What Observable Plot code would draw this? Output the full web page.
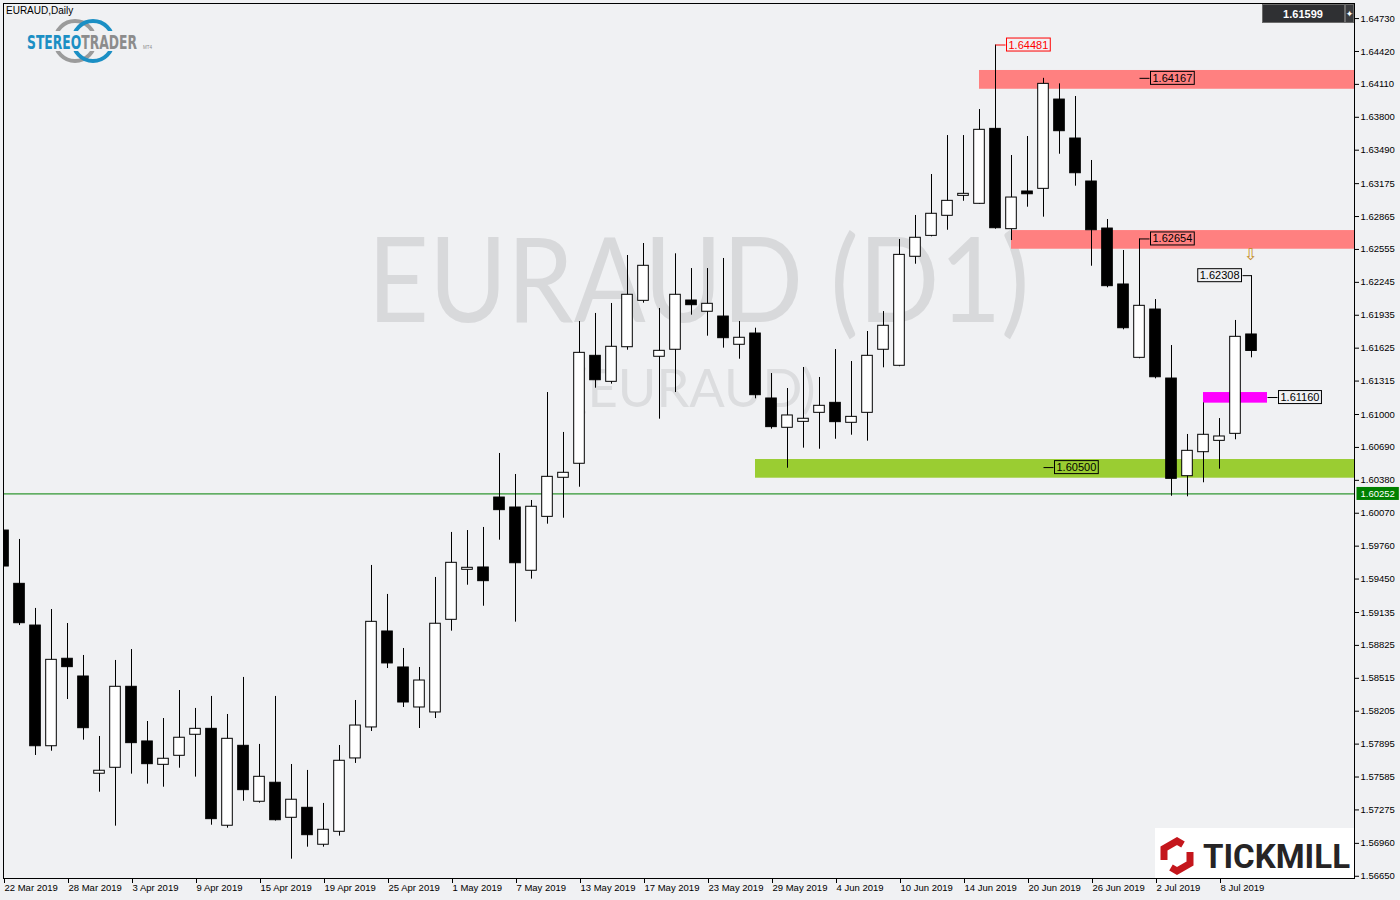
<!DOCTYPE html>
<html><head><meta charset="utf-8">
<script src="https://cdn.jsdelivr.net/npm/d3@7"></script>
<script src="https://cdn.jsdelivr.net/npm/@observablehq/plot@0.6"></script>
<style>
html,body{margin:0;padding:0;background:#f0f1f3;}
#wrap{position:relative;width:1400px;height:900px;overflow:hidden;background:#f0f1f3;}
#overlay{position:absolute;left:0;top:0;pointer-events:none;}
</style></head><body>
<div id="wrap"><div id="chart"></div><svg id="overlay" width="1400" height="900"></svg></div>
<script>
const symbol = "EURAUD";
const timeframe = "Daily";
const watermark = "EURAUD (D1)";
const watermark2 = "(EURAUD)";

const dates = [
"2019-03-22","2019-03-25","2019-03-26","2019-03-27","2019-03-28","2019-03-29",
"2019-04-01","2019-04-02","2019-04-03","2019-04-04","2019-04-05",
"2019-04-08","2019-04-09","2019-04-10","2019-04-11","2019-04-12",
"2019-04-15","2019-04-16","2019-04-17","2019-04-18","2019-04-19",
"2019-04-22","2019-04-23","2019-04-24","2019-04-25","2019-04-26",
"2019-04-29","2019-04-30","2019-05-01","2019-05-02","2019-05-03",
"2019-05-06","2019-05-07","2019-05-08","2019-05-09","2019-05-10",
"2019-05-13","2019-05-14","2019-05-15","2019-05-16","2019-05-17",
"2019-05-20","2019-05-21","2019-05-22","2019-05-23","2019-05-24",
"2019-05-27","2019-05-28","2019-05-29","2019-05-30","2019-05-31",
"2019-06-03","2019-06-04","2019-06-05","2019-06-06","2019-06-07",
"2019-06-10","2019-06-11","2019-06-12","2019-06-13","2019-06-14",
"2019-06-17","2019-06-18","2019-06-19","2019-06-20","2019-06-21",
"2019-06-24","2019-06-25","2019-06-26","2019-06-27","2019-06-28",
"2019-07-01","2019-07-02","2019-07-03","2019-07-04","2019-07-05",
"2019-07-08","2019-07-09","2019-07-10"];

const open = [1.59907,1.59405,1.59012,1.57875,1.58699,1.58532,1.57616,1.57672,1.58435,1.57920,
1.57700,1.57785,1.57983,1.58039,1.57126,1.57879,1.57352,1.57531,1.57201,1.57295,
1.56947,1.57069,1.57760,1.58052,1.58956,1.58617,1.58240,1.58193,1.59066,1.59537,
1.59559,1.60218,1.60124,1.59528,1.60036,1.60404,1.60536,1.61553,1.61308,1.61634,
1.62071,1.61544,1.61610,1.62074,1.61968,1.61923,1.61657,1.61763,1.61151,1.60875,
1.60931,1.61016,1.61110,1.60922,1.61016,1.61610,1.61459,1.62486,1.62683,1.62872,
1.63060,1.62985,1.63691,1.62746,1.63101,1.63126,1.63967,1.63600,1.63195,1.62752,
1.62225,1.61534,1.61989,1.61339,1.60419,1.60645,1.60752,1.60818,1.61754];
const high = [1.60209,1.59823,1.59173,1.59163,1.59031,1.58730,1.57967,1.58683,1.58786,1.58108,
1.58136,1.58400,1.58231,1.58344,1.58174,1.58523,1.57892,1.58344,1.57703,1.57647,
1.57336,1.57882,1.58306,1.59578,1.59305,1.58796,1.58617,1.59465,1.59889,1.59907,
1.59936,1.60633,1.60435,1.60190,1.61207,1.60831,1.61876,1.61952,1.62046,1.62498,
1.62611,1.61999,1.62514,1.62375,1.62375,1.62470,1.61876,1.61813,1.61386,1.61245,
1.61443,1.61349,1.61612,1.61499,1.61782,1.61970,1.62649,1.62875,1.63261,1.63628,
1.63628,1.63873,1.64481,1.63440,1.63619,1.64167,1.64115,1.63996,1.63393,1.62837,
1.62545,1.62654,1.62083,1.61650,1.60812,1.61110,1.60962,1.61886,1.62308];
const low = [1.58862,1.59012,1.57788,1.57828,1.58315,1.57932,1.57442,1.57122,1.57612,1.57518,
1.57489,1.57668,1.57584,1.57131,1.57103,1.57357,1.57339,1.57170,1.56811,1.56924,
1.56924,1.57028,1.57713,1.58014,1.58607,1.58240,1.58042,1.58136,1.58959,1.59392,
1.59194,1.59816,1.59044,1.59449,1.59967,1.60023,1.60315,1.61248,1.61286,1.61606,
1.62049,1.60956,1.61207,1.61936,1.61738,1.61625,1.61521,1.61148,1.60862,1.60494,
1.60683,1.60673,1.60767,1.60805,1.60749,1.61440,1.61450,1.62416,1.62674,1.62736,
1.63009,1.62980,1.62746,1.62639,1.62953,1.62859,1.63452,1.63151,1.62397,1.62194,
1.61798,1.61525,1.61336,1.60230,1.60225,1.60357,1.60485,1.60762,1.61534];
const close = [1.59568,1.59034,1.57875,1.58689,1.58620,1.58045,1.57644,1.58435,1.57904,1.57706,
1.57757,1.57955,1.58039,1.57188,1.57945,1.57461,1.57587,1.57178,1.57371,1.57037,
1.57088,1.57738,1.58070,1.59047,1.58655,1.58287,1.58494,1.59029,1.59603,1.59556,
1.59430,1.60099,1.59599,1.60131,1.60413,1.60451,1.61581,1.61323,1.61638,1.62128,
1.62401,1.61600,1.62128,1.62030,1.62043,1.61719,1.61723,1.61182,1.60881,1.60991,
1.60960,1.61082,1.60928,1.60978,1.61553,1.61836,1.62504,1.62665,1.62891,1.63013,
1.63079,1.63682,1.62755,1.63044,1.63075,1.64115,1.63669,1.63273,1.62736,1.62209,
1.61813,1.62024,1.61351,1.60394,1.60658,1.60809,1.60793,1.61732,1.61599];

const yTicks = [1.64730,1.64420,1.64110,1.63800,1.63490,1.63175,1.62865,1.62555,1.62245,1.61935,
1.61625,1.61315,1.61000,1.60690,1.60380,1.60070,1.59760,1.59450,1.59135,1.58825,
1.58515,1.58205,1.57895,1.57585,1.57275,1.56960,1.56650];
const xTickLabels = ["22 Mar 2019","28 Mar 2019","3 Apr 2019","9 Apr 2019","15 Apr 2019","19 Apr 2019",
"25 Apr 2019","1 May 2019","7 May 2019","13 May 2019","17 May 2019","23 May 2019","29 May 2019",
"4 Jun 2019","10 Jun 2019","14 Jun 2019","20 Jun 2019","26 Jun 2019","2 Jul 2019","8 Jul 2019"];

// zones (support / resistance rectangles)
const zoneStart = ["2019-06-17","2019-06-19","2019-07-05","2019-05-28"];
const zoneEnd   = [null, null, "2019-07-11", null];
const zoneLow   = [1.64064, 1.62557, 1.61107, 1.60400];
const zoneHigh  = [1.64241, 1.62733, 1.61207, 1.60576];
const zoneKind  = ["resistance","resistance","pivot","support"];

// price labels
const labelValue = [1.64481, 1.64167, 1.62654, 1.60500, 1.61160, 1.62308];
const labelDate  = ["2019-06-18","2019-07-01","2019-07-01","2019-06-21","2019-07-11","2019-07-10"];
const labelSide  = ["right","right","right","right","right","left"];
const labelKind  = ["high","level","level","level","level","high2"];

const hLine = 1.60252;
const arrowDate = "2019-07-10";
const arrowPrice = 1.62500;

// ---------- styles / layout ----------
const BG = "#f0f1f3";
const zoneColor = {resistance:"#ff8080", pivot:"#ff00ff", support:"#9acd32"};
const BAR_PX = 16;
const plotLeft = 3, plotRight = 1354, plotTop = 3, plotBottom = 878;
const visibleBars = (plotRight - plotLeft) / BAR_PX;
const connector = 10 / BAR_PX;
const halfBody = 5.3 / BAR_PX;

const last = dates[dates.length - 1];
function idx(d) {
  const i = dates.indexOf(d);
  if (i >= 0) return i;
  let n = dates.length - 1, t = new Date(last + "T00:00:00Z");
  const target = new Date(d + "T00:00:00Z");
  while (t < target) { t = new Date(t.getTime() + 864e5); const w = t.getUTCDay(); if (w !== 0 && w !== 6) n++; }
  return n;
}
const fmtDate = d3.utcFormat("%-d %b %Y");
const tickIdx = xTickLabels.map(l => dates.findIndex(d => fmtDate(new Date(d + "T00:00:00Z")) === l));

const data = dates.map((d, i) => ({i, date: d, open: open[i], high: high[i], low: low[i], close: close[i]}));
const zones = zoneStart.map((s, k) => ({x1: idx(s), x2: zoneEnd[k] ? idx(zoneEnd[k]) : visibleBars, y1: zoneLow[k], y2: zoneHigh[k], kind: zoneKind[k]}));
const labels = labelValue.map((v, k) => ({value: v, x: idx(labelDate[k]), side: labelSide[k], kind: labelKind[k]}));
const lblR = labels.filter(d => d.side === "right" && d.kind !== "high");
const lblRed = labels.filter(d => d.kind === "high");
const lblL = labels.filter(d => d.side === "left");

const yDomain = [1.56629, 1.64872];

const chart = Plot.plot({
  width: 1400, height: 900,
  marginLeft: plotLeft, marginRight: 1400 - plotRight, marginTop: plotTop, marginBottom: 900 - plotBottom,
  style: {background: BG, fontFamily: "'Liberation Sans', Arial, sans-serif", fontSize: "9.5px", color: "#000"},
  x: {type: "linear", domain: [0, visibleBars]},
  y: {type: "linear", domain: yDomain},
  marks: [
    Plot.text([watermark], {frameAnchor: "top-left", dx: 695, dy: 281, text: d => d, textAnchor: "middle", lineAnchor: "middle",
      fontSize: 118, fontWeight: 400, fontFamily: "Lato, 'Open Sans', sans-serif", fill: "#d8d9db", className: "wm1", ariaLabel: () => "wm1"}),
    Plot.text([watermark2], {frameAnchor: "top-left", dx: 691, dy: 387, text: d => d, textAnchor: "middle", lineAnchor: "middle",
      fontSize: 52, fontWeight: 400, fontFamily: "Lato, 'Open Sans', sans-serif", fill: "#dcdddf", className: "wm2", ariaLabel: () => "wm2"}),
    Plot.rect(zones, {x1: "x1", x2: "x2", y1: "y1", y2: "y2", fill: d => zoneColor[d.kind], clip: true}),
    Plot.ruleY([hLine], {stroke: "#008000", strokeWidth: 1, clip: true}),
    Plot.ruleX(data, {x: "i", y1: "low", y2: "high", stroke: "#000", strokeWidth: 1, clip: true}),
    Plot.rect(data, {x1: d => d.i - halfBody, x2: d => d.i + halfBody, y1: "open", y2: "close",
      fill: d => d.close >= d.open ? "#ffffff" : "#000000", stroke: "#000", strokeWidth: 1, clip: true}),
    Plot.link(lblR, {x1: "x", x2: d => d.x + connector, y1: "value", y2: "value", stroke: "#000"}),
    Plot.link(lblRed, {x1: "x", x2: d => d.x + connector, y1: "value", y2: "value", stroke: "#ff0000"}),
    Plot.link(lblL, {x1: "x", x2: d => d.x - connector * 0.9, y1: "value", y2: "value", stroke: "#000"}),
    Plot.text(lblR, {x: d => d.x + connector, y: "value", text: d => d.value.toFixed(5), textAnchor: "start", dx: 3,
      fontSize: 11, fill: "#000", className: "box-black", ariaLabel: () => "box-black"}),
    Plot.text(lblRed, {x: d => d.x + connector, y: "value", text: d => d.value.toFixed(5), textAnchor: "start", dx: 3,
      fontSize: 11, fill: "#ff0000", className: "box-red", ariaLabel: () => "box-red"}),
    Plot.text(lblL, {x: d => d.x - connector * 0.9, y: "value", text: d => d.value.toFixed(5), textAnchor: "end", dx: -3,
      fontSize: 11, fill: "#000", className: "box-black2", ariaLabel: () => "box-black2"}),
    Plot.text([arrowPrice], {x: () => idx(arrowDate), y: d => d, text: () => "⇩", fontSize: 16, fill: "#c48a22",
      fontFamily: "'DejaVu Sans', sans-serif", dx: -1}),
    Plot.frame({stroke: "#000"}),
    Plot.axisY({anchor: "right", ticks: yTicks, tickFormat: d => d.toFixed(5), tickSize: 4, tickPadding: 2, label: null}),
    Plot.axisX({anchor: "bottom", ticks: tickIdx, tickFormat: d => xTickLabels[tickIdx.indexOf(d)], textAnchor: "start",
      tickSize: 5, tickPadding: 1, label: null, dx: 1}),
    Plot.text([hLine], {x: () => visibleBars, y: d => d, text: d => d.toFixed(5), textAnchor: "start", dx: 6,
      fontSize: 9.5, fill: "#ffffff", className: "box-green", ariaLabel: () => "box-green"})
  ]
});
document.getElementById("chart").appendChild(chart);

const NS = "http://www.w3.org/2000/svg";
function pick(label) {
  const set = new Set();
  chart.querySelectorAll(`.${label} text, text.${label}, g[aria-label="${label}"] text, text[aria-label="${label}"]`).forEach(t => set.add(t));
  return [...set];
}
function boxify(label, fill, stroke, padX, padY) {
  pick(label).forEach(t => {
    const b = t.getBBox();
    const r = document.createElementNS(NS, "rect");
    r.setAttribute("x", b.x - padX); r.setAttribute("y", b.y - padY);
    r.setAttribute("width", b.width + 2 * padX); r.setAttribute("height", b.height + 2 * padY);
    r.setAttribute("fill", fill); r.setAttribute("stroke", stroke);
    const tr = t.getAttribute("transform"); if (tr) r.setAttribute("transform", tr);
    t.parentNode.insertBefore(r, t);
  });
}
boxify("box-black", "none", "#000", 2, 0.5);
boxify("box-black2", "none", "#000", 2, 0.5);
boxify("box-red", "none", "#ff0000", 2, 0.5);
boxify("box-green", "#008000", "none", 4, 1);
function stretch(label, len) {
  pick(label).forEach(t => { t.setAttribute("textLength", len); t.setAttribute("lengthAdjust", "spacingAndGlyphs"); });
}
stretch("wm1", 662);
stretch("wm2", 242);

// ---------- overlay: title, logos, price box ----------
const ov = d3.select("#overlay");
ov.append("text").attr("x", 6).attr("y", 14).attr("font-family", "'Liberation Sans', Arial, sans-serif")
  .attr("font-size", 10).attr("fill", "#000").text(`${symbol},${timeframe}`);

// StereoTrader logo
const lg = ov.append("g");
lg.append("circle").attr("cx", 75).attr("cy", 41).attr("r", 20).attr("fill", "none").attr("stroke", "#9b9b9b").attr("stroke-width", 4);
lg.append("circle").attr("cx", 93).attr("cy", 41).attr("r", 20).attr("fill", "none").attr("stroke", "#1b8fc4").attr("stroke-width", 4);
lg.append("rect").attr("x", 25).attr("y", 31).attr("width", 116).attr("height", 20).attr("fill", BG);
const lt = lg.append("g").attr("transform", "translate(27,49) scale(1,1.4)").append("text").attr("x", 0).attr("y", 0)
  .attr("font-family", "'Liberation Sans Narrow','DejaVu Sans Condensed','Liberation Sans',sans-serif")
  .attr("font-weight", "bold").attr("font-size", 13.5).attr("textLength", 110).attr("lengthAdjust", "spacingAndGlyphs");
lt.append("tspan").attr("fill", "#1b8fc4").text("STEREO");
lt.append("tspan").attr("fill", "#8c8c8c").text("TRADER");
lg.append("text").attr("x", 143).attr("y", 49).attr("font-family", "'Liberation Sans',sans-serif").attr("font-size", 4.5).attr("fill", "#8c8c8c").text("MT4");

// price box top-right
ov.append("rect").attr("x", 1262.5).attr("y", 4.5).attr("width", 82).attr("height", 18).attr("fill", "#2f3033").attr("stroke", "#6b6b6b");
ov.append("text").attr("x", 1303).attr("y", 17.5).attr("text-anchor", "middle").attr("font-family", "'Liberation Sans', Arial, sans-serif")
  .attr("font-size", 11).attr("font-weight", "bold").attr("fill", "#ffffff").text(close[close.length - 1].toFixed(5));
ov.append("rect").attr("x", 1345.5).attr("y", 4.5).attr("width", 8).attr("height", 18).attr("fill", "#3a3b3e").attr("stroke", "#6b6b6b");
ov.append("text").attr("x", 1349.5).attr("y", 17).attr("text-anchor", "middle").attr("font-family", "'DejaVu Sans',sans-serif")
  .attr("font-size", 9).attr("fill", "#fff").text("✦");

// Tickmill logo
const tm = ov.append("g");
tm.append("rect").attr("x", 1155).attr("y", 828).attr("width", 199).attr("height", 50).attr("fill", "#ffffff");
const hx = tm.append("g").attr("transform", "translate(1177,856)");
hx.append("path").attr("d", "M-13,4 L-13,-7.5 L0,-15 L6,-11.5").attr("fill", "none").attr("stroke", "#c4161c").attr("stroke-width", 7).attr("stroke-linejoin", "miter");
hx.append("path").attr("d", "M13,-4 L13,7.5 L0,15 L-6,11.5").attr("fill", "none").attr("stroke", "#c4161c").attr("stroke-width", 7).attr("stroke-linejoin", "miter");
tm.append("text").attr("x", 1203).attr("y", 868).attr("font-family", "Roboto,'Open Sans','Liberation Sans',sans-serif")
  .attr("font-weight", "bold").attr("font-size", 34).attr("fill", "#262425").attr("textLength", 147).attr("lengthAdjust", "spacingAndGlyphs").text("TICKMILL");
</script>
</body></html>
